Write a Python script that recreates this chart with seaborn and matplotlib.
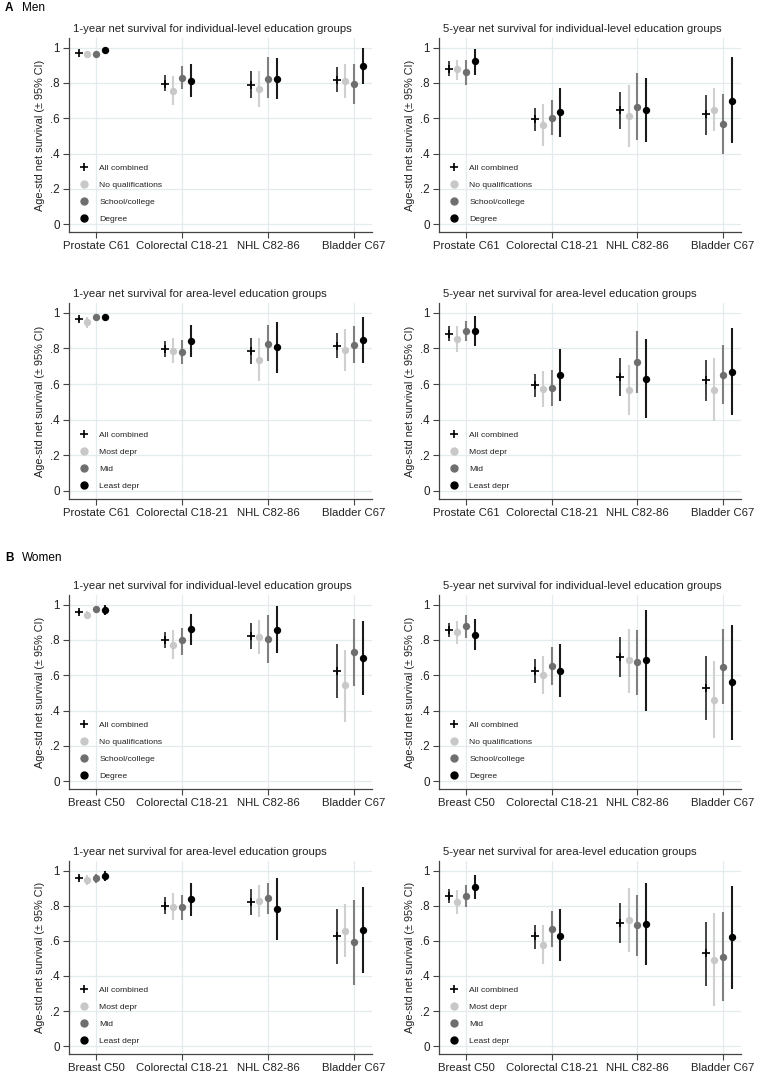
import matplotlib.pyplot as plt
import pandas as pd
import seaborn as sns
from matplotlib.lines import Line2D

sns.set_theme(style="white")
plt.rcParams['font.family'] = ['Liberation Sans', 'DejaVu Sans']

# Labels
men_sites = ["Prostate C61", "Colorectal C18-21", "NHL C82-86", "Bladder C67"]
women_sites = ["Breast C50", "Colorectal C18-21", "NHL C82-86", "Bladder C67"]
indiv_groups = ["All combined", "No qualifications", "School/college", "Degree"]
area_groups = ["All combined", "Most depr", "Mid", "Least depr"]
ytick_vals = [0, 0.2, 0.4, 0.6, 0.8, 1]
ytick_text = ["0", ".2", ".4", ".6", ".8", "1"]
ylabel = "Age-std net survival (\u00b1 95% CI)"

# Values: rows = cancer site, columns = group (All combined, low, mid, high)
men_1y_ind_est = [[0.970, 0.964, 0.963, 0.986], [0.797, 0.756, 0.828, 0.810],
                  [0.790, 0.765, 0.825, 0.824], [0.818, 0.811, 0.794, 0.897]]
men_1y_ind_lo = [[0.962, 0.952, 0.944, 0.975], [0.756, 0.674, 0.766, 0.718],
                 [0.716, 0.661, 0.712, 0.707], [0.749, 0.716, 0.682, 0.796]]
men_1y_ind_hi = [[0.978, 0.975, 0.980, 0.996], [0.846, 0.842, 0.895, 0.907],
                 [0.867, 0.869, 0.945, 0.943], [0.893, 0.905, 0.905, 1.000]]

men_5y_ind_est = [[0.881, 0.879, 0.862, 0.925], [0.594, 0.560, 0.602, 0.634],
                  [0.645, 0.615, 0.664, 0.645], [0.623, 0.649, 0.570, 0.700]]
men_5y_ind_lo = [[0.838, 0.819, 0.790, 0.847], [0.526, 0.442, 0.504, 0.494],
                 [0.538, 0.438, 0.475, 0.468], [0.506, 0.526, 0.400, 0.457]]
men_5y_ind_hi = [[0.923, 0.932, 0.932, 0.994], [0.658, 0.679, 0.702, 0.774],
                 [0.747, 0.789, 0.855, 0.826], [0.732, 0.774, 0.736, 0.947]]

men_1y_area_est = [[0.966, 0.947, 0.974, 0.976], [0.797, 0.788, 0.782, 0.842],
                   [0.788, 0.735, 0.827, 0.806], [0.816, 0.793, 0.821, 0.848]]
men_1y_area_lo = [[0.956, 0.915, 0.962, 0.953], [0.750, 0.716, 0.712, 0.754],
                  [0.712, 0.615, 0.727, 0.660], [0.746, 0.675, 0.716, 0.720]]
men_1y_area_hi = [[0.976, 0.976, 0.986, 0.994], [0.840, 0.857, 0.850, 0.934],
                  [0.859, 0.857, 0.929, 0.951], [0.889, 0.910, 0.925, 0.977]]

men_5y_area_est = [[0.883, 0.853, 0.896, 0.896], [0.595, 0.572, 0.580, 0.650],
                   [0.642, 0.569, 0.725, 0.631], [0.621, 0.569, 0.653, 0.670]]
men_5y_area_lo = [[0.842, 0.780, 0.842, 0.812], [0.529, 0.473, 0.478, 0.507],
                  [0.535, 0.426, 0.550, 0.412], [0.507, 0.394, 0.488, 0.426]]
men_5y_area_hi = [[0.925, 0.925, 0.953, 0.983], [0.659, 0.676, 0.680, 0.797],
                  [0.746, 0.706, 0.896, 0.853], [0.733, 0.746, 0.817, 0.913]]

women_1y_ind_est = [[0.960, 0.943, 0.974, 0.970], [0.800, 0.773, 0.798, 0.860],
                    [0.820, 0.818, 0.805, 0.858], [0.625, 0.542, 0.730, 0.698]]
women_1y_ind_lo = [[0.948, 0.921, 0.953, 0.940], [0.755, 0.690, 0.716, 0.770],
                   [0.747, 0.722, 0.670, 0.727], [0.472, 0.336, 0.540, 0.490]]
women_1y_ind_hi = [[0.972, 0.966, 0.989, 0.996], [0.845, 0.858, 0.870, 0.950],
                   [0.895, 0.912, 0.940, 0.990], [0.779, 0.742, 0.920, 0.906]]

women_5y_ind_est = [[0.858, 0.845, 0.879, 0.830], [0.624, 0.603, 0.652, 0.624],
                    [0.703, 0.684, 0.675, 0.684], [0.529, 0.461, 0.648, 0.560]]
women_5y_ind_lo = [[0.817, 0.779, 0.811, 0.741], [0.556, 0.491, 0.546, 0.476],
                   [0.590, 0.501, 0.490, 0.397], [0.344, 0.246, 0.435, 0.231]]
women_5y_ind_hi = [[0.896, 0.905, 0.943, 0.917], [0.694, 0.711, 0.760, 0.775],
                   [0.815, 0.864, 0.854, 0.968], [0.707, 0.680, 0.864, 0.887]]

women_1y_area_est = [[0.958, 0.947, 0.956, 0.972], [0.801, 0.795, 0.790, 0.839],
                     [0.822, 0.828, 0.845, 0.782], [0.625, 0.658, 0.592, 0.664]]
women_1y_area_lo = [[0.946, 0.919, 0.928, 0.943], [0.754, 0.720, 0.718, 0.744],
                    [0.746, 0.733, 0.752, 0.606], [0.468, 0.506, 0.349, 0.419]]
women_1y_area_hi = [[0.970, 0.975, 0.980, 1.000], [0.848, 0.871, 0.864, 0.928],
                    [0.894, 0.920, 0.932, 0.956], [0.779, 0.808, 0.830, 0.909]]

women_5y_area_est = [[0.856, 0.824, 0.856, 0.905], [0.625, 0.578, 0.669, 0.629],
                     [0.701, 0.716, 0.688, 0.695], [0.528, 0.492, 0.510, 0.620]]
women_5y_area_lo = [[0.816, 0.752, 0.792, 0.837], [0.555, 0.470, 0.564, 0.483],
                    [0.587, 0.534, 0.511, 0.464], [0.345, 0.227, 0.255, 0.323]]
women_5y_area_hi = [[0.898, 0.890, 0.917, 0.975], [0.691, 0.689, 0.771, 0.780],
                    [0.814, 0.900, 0.862, 0.928], [0.708, 0.760, 0.765, 0.912]]

# Styling
offsets = [-0.2, -0.1, 0.0, 0.1]
point_colors = ["black", "#c8c8c8", "#6e6e6e", "black"]
bar_colors = ["#111111", "#d0d0d0", "#808080", "#1a1a1a"]
grid_color = "#e3ebee"
text_color = "#222222"


def make_frame(sites, groups, est, lo, hi):
    rows = []
    for i, site in enumerate(sites):
        for j, grp in enumerate(groups):
            rows.append({"site": site, "group": grp, "est": est[i][j],
                         "lo": lo[i][j], "hi": hi[i][j], "pos": i + offsets[j]})
    return pd.DataFrame(rows)


def draw_panel(ax, df, sites, groups, title):
    for y in ytick_vals:
        ax.axhline(y, color=grid_color, lw=0.9, zorder=0)
    for x in range(len(sites)):
        ax.axvline(x, color=grid_color, lw=0.9, zorder=0)

    for j, grp in enumerate(groups):
        sub = df[df["group"] == grp]
        ax.vlines(sub["pos"], sub["lo"], sub["hi"], colors=bar_colors[j],
                  lw=1.1 if j == 0 else 1.5, zorder=2)
        if j == 0:
            sns.scatterplot(data=sub, x="pos", y="est", marker="+", color="black",
                            edgecolor=None, s=40, linewidth=1.2, ax=ax, zorder=3)
        else:
            sns.scatterplot(data=sub, x="pos", y="est", marker="o",
                            color=point_colors[j], s=28, linewidth=0, ax=ax, zorder=3)

    ax.set_xlim(-0.315, 3.21)
    ax.set_ylim(-0.045, 1.055)
    ax.set_xticks(range(len(sites)))
    ax.set_xticklabels(sites, fontsize=8.2, color=text_color)
    ax.set_yticks(ytick_vals)
    ax.set_yticklabels(ytick_text, fontsize=8.4, color=text_color)
    ax.set_xlabel("")
    ax.set_ylabel(ylabel, fontsize=7.8, color=text_color)
    ax.yaxis.set_label_coords(-0.078, 0.5)
    ax.tick_params(axis="both", which="major", length=4, width=0.8,
                   color="#444444", pad=2.5, left=True, bottom=True)
    sns.despine(ax=ax)
    for side in ["left", "bottom"]:
        ax.spines[side].set_color("#444444")
        ax.spines[side].set_linewidth(0.9)

    ax.text(0.013, 1.03, title, transform=ax.transAxes, fontsize=8.2,
            color=text_color, ha="left", va="baseline")

    handles = [Line2D([], [], marker="+", color="black", linestyle="none",
                      markersize=6, markeredgewidth=1.2)]
    for j in range(1, 4):
        handles.append(Line2D([], [], marker="o", color=point_colors[j],
                              linestyle="none", markersize=5))
    ax.legend(handles, groups, loc="lower left", bbox_to_anchor=(0.02, 0.025),
              frameon=False, fontsize=6.1, handlelength=1.0, handletextpad=1.35,
              labelspacing=1.05, borderpad=0, labelcolor=text_color)


fig = plt.figure(figsize=(7.61, 10.76), dpi=100)

W, H = 761, 1076
col_px = [(69, 372), (439, 741)]
row_px = [(38, 232), (303, 499), (595, 789), (861, 1054)]

panels = [
    (0, 0, men_sites, indiv_groups, men_1y_ind_est, men_1y_ind_lo, men_1y_ind_hi,
     "1-year net survival for individual-level education groups"),
    (0, 1, men_sites, indiv_groups, men_5y_ind_est, men_5y_ind_lo, men_5y_ind_hi,
     "5-year net survival for individual-level education groups"),
    (1, 0, men_sites, area_groups, men_1y_area_est, men_1y_area_lo, men_1y_area_hi,
     "1-year net survival for area-level education groups"),
    (1, 1, men_sites, area_groups, men_5y_area_est, men_5y_area_lo, men_5y_area_hi,
     "5-year net survival for area-level education groups"),
    (2, 0, women_sites, indiv_groups, women_1y_ind_est, women_1y_ind_lo, women_1y_ind_hi,
     "1-year net survival for individual-level education groups"),
    (2, 1, women_sites, indiv_groups, women_5y_ind_est, women_5y_ind_lo, women_5y_ind_hi,
     "5-year net survival for individual-level education groups"),
    (3, 0, women_sites, area_groups, women_1y_area_est, women_1y_area_lo, women_1y_area_hi,
     "1-year net survival for area-level education groups"),
    (3, 1, women_sites, area_groups, women_5y_area_est, women_5y_area_lo, women_5y_area_hi,
     "5-year net survival for area-level education groups"),
]

for r, c, sites, groups, est, lo, hi, title in panels:
    x0, x1 = col_px[c]
    y0, y1 = row_px[r]
    ax = fig.add_axes([x0 / W, 1 - y1 / H, (x1 - x0) / W, (y1 - y0) / H])
    df = make_frame(sites, groups, est, lo, hi)
    draw_panel(ax, df, sites, groups, title)

# Section labels
fig.text(5 / W, 1 - 8 / H, "A", fontsize=8.5, weight="bold", va="center", color="black")
fig.text(22 / W, 1 - 8 / H, "Men", fontsize=8.5, va="center", color="black")
fig.text(5 / W, 1 - 558 / H, "B", fontsize=8.5, weight="bold", va="center", color="black")
fig.text(22 / W, 1 - 558 / H, "Women", fontsize=8.5, va="center", color="black")

fig.savefig("out.png", dpi=100)
